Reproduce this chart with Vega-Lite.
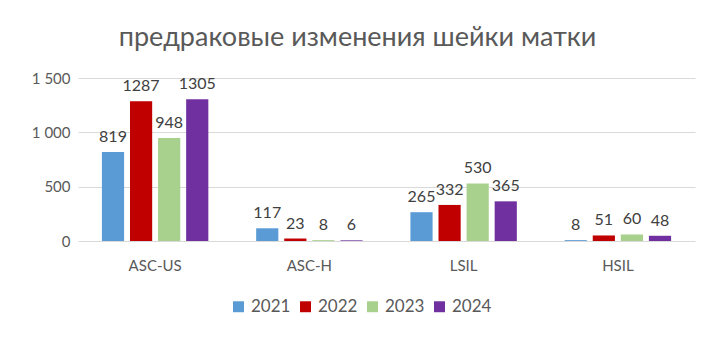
{
  "$schema": "https://vega.github.io/schema/vega-lite/v6.json",
  "width": 617,
  "height": 163,
  "autosize": {"type": "none"},
  "padding": {"left": 78, "top": 78, "right": 19, "bottom": 97},
  "background": "white",
  "title": {
    "text": "предраковые изменения шейки матки",
    "fontSize": 27,
    "font": "Lato",
    "fontWeight": "normal",
    "color": "#595959",
    "anchor": "middle",
    "dx": -29,
    "offset": 19
  },
  "data": {
    "values": [
      {"cat": "ASC-US", "year": "2021", "value": 819},
      {"cat": "ASC-US", "year": "2022", "value": 1287},
      {"cat": "ASC-US", "year": "2023", "value": 948},
      {"cat": "ASC-US", "year": "2024", "value": 1305},
      {"cat": "ASC-H", "year": "2021", "value": 117},
      {"cat": "ASC-H", "year": "2022", "value": 23},
      {"cat": "ASC-H", "year": "2023", "value": 8},
      {"cat": "ASC-H", "year": "2024", "value": 6},
      {"cat": "LSIL", "year": "2021", "value": 265},
      {"cat": "LSIL", "year": "2022", "value": 332},
      {"cat": "LSIL", "year": "2023", "value": 530},
      {"cat": "LSIL", "year": "2024", "value": 365},
      {"cat": "HSIL", "year": "2021", "value": 8},
      {"cat": "HSIL", "year": "2022", "value": 51},
      {"cat": "HSIL", "year": "2023", "value": 60},
      {"cat": "HSIL", "year": "2024", "value": 48}
    ]
  },
  "encoding": {
    "x": {
      "field": "cat", "type": "nominal", "sort": ["ASC-US", "ASC-H", "LSIL", "HSIL"],
      "scale": {"paddingInner": 0.31, "paddingOuter": 0.155},
      "axis": {"title": null, "labelAngle": 0, "ticks": false, "domain": false, "labelPadding": 17, "labelFontSize": 15, "labelColor": "#595959", "labelFont": "Lato"}
    },
    "xOffset": {"field": "year", "type": "nominal", "scale": {"paddingInner": 0.21}},
    "y": {
      "field": "value", "type": "quantitative",
      "scale": {"domain": [0, 1500], "nice": false},
      "axis": {"title": null, "values": [0, 500, 1000, 1500], "labelExpr": "replace(format(datum.value, ','), ',', ' ')", "ticks": false, "domain": false, "gridColor": "#d9d9d9", "labelPadding": 8, "labelFontSize": 15, "labelColor": "#595959", "labelFont": "Lato"}
    }
  },
  "layer": [
    {
      "mark": {"type": "bar"},
      "encoding": {
        "color": {
          "field": "year", "type": "nominal",
          "scale": {"domain": ["2021", "2022", "2023", "2024"], "range": ["#5B9BD5", "#C00000", "#A9D18E", "#7030A0"]},
          "legend": {"title": null, "orient": "none", "direction": "horizontal", "legendX": 152, "legendY": 220, "symbolType": "square", "symbolSize": 120, "symbolStrokeWidth": 0, "labelFontSize": 17, "labelColor": "#595959", "labelFont": "Lato", "columnPadding": 6, "labelOffset": 4}
        }
      }
    },
    {
      "mark": {"type": "text", "baseline": "bottom", "dy": -7, "fontSize": 16, "font": "Lato", "color": "#404040"},
      "encoding": {"text": {"field": "value", "type": "quantitative", "format": "d"}}
    }
  ],
  "config": {"view": {"stroke": null}}
}
